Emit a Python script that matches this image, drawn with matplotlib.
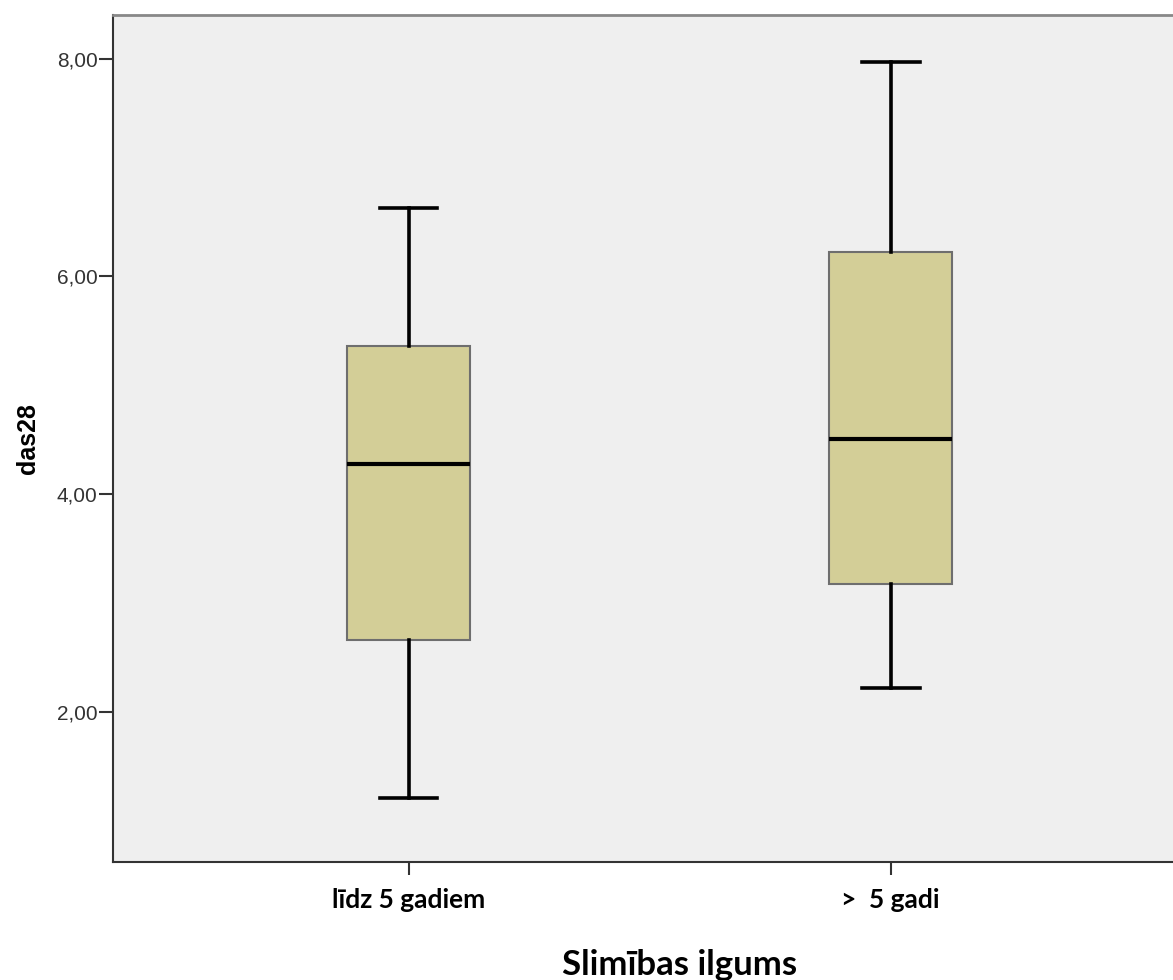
import matplotlib
matplotlib.use("Agg")
import matplotlib.pyplot as plt
from matplotlib.ticker import FuncFormatter

categories = ["līdz 5 gadiem", ">  5 gadi"]
whisker_low = [1.21, 2.22]
q1 = [2.66, 3.18]
median = [4.275, 4.51]
q3 = [5.36, 6.22]
whisker_high = [6.63, 7.97]
y_ticks = [2.0, 4.0, 6.0, 8.0]

fig = plt.figure(figsize=(11.73, 9.8), dpi=100)
ax = fig.add_axes([113/1173, (980-862)/980, 1 - 113/1173 + 0.01, (862-15)/980])
ax.set_facecolor("#EFEFEF")

stats = []
for i, c in enumerate(categories):
    stats.append(dict(label=c, whislo=whisker_low[i], q1=q1[i], med=median[i],
                      q3=q3[i], whishi=whisker_high[i], fliers=[]))
positions = list(range(1, len(categories) + 1))
ax.bxp(stats, positions=positions, widths=0.256, patch_artist=True, showfliers=False,
       boxprops=dict(facecolor="#D3CE97", edgecolor="#6E6E6E", linewidth=1.5),
       medianprops=dict(color="black", linewidth=3),
       whiskerprops=dict(color="black", linewidth=2.6),
       capprops=dict(color="black", linewidth=2.6),
       capwidths=0.12, zorder=3)

ax.set_xlim(0.387, 2.61)
ax.set_ylim(0.624, 8.40)
ax.set_yticks(y_ticks)
ax.yaxis.set_major_formatter(FuncFormatter(lambda v, p: f"{v:.2f}".replace(".", ",")))
ax.set_xticks(positions)
ax.set_xticklabels(categories, fontfamily="Lato", fontweight="bold", fontsize=19)
ax.tick_params(axis="y", length=10, width=1.5, color="#333333", pad=1,
               labelfontfamily="Liberation Sans", labelsize=15, labelcolor="#333333")
ax.tick_params(axis="x", length=9, width=1.5, color="#333333", pad=10)
for lab in ax.get_xticklabels():
    lab.set_fontfamily("Lato")
    lab.set_fontweight("bold")
    lab.set_fontsize(19)

for s in ["left", "bottom"]:
    ax.spines[s].set_color("#333333")
    ax.spines[s].set_linewidth(1.5)
ax.spines["top"].set_color("#888888")
ax.spines["top"].set_linewidth(2)
ax.spines["right"].set_visible(False)

ax.set_ylabel("das28", fontfamily="Liberation Sans", fontweight="bold", fontsize=18)
ax.yaxis.set_label_coords(-(113 - 40) / 1071.8, 0.5)
ax.set_xlabel("Slimības ilgums", fontfamily="Lato", fontweight="bold", fontsize=25)
ax.xaxis.set_label_coords((680 - 113) / 1071.8, -(965 - 862) / 847)
ax.xaxis.label.set_verticalalignment("center")

fig.savefig("out.png", dpi=100, facecolor="white")
